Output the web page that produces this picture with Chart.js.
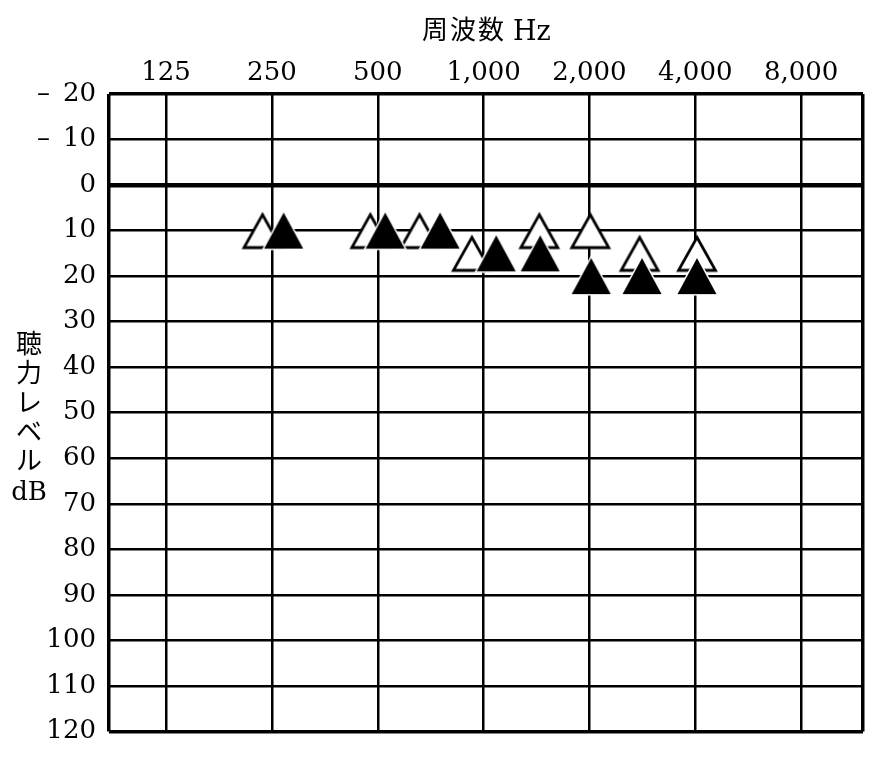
<!DOCTYPE html>
<html>
<head>
<meta charset="utf-8">
<script src="https://cdn.jsdelivr.net/npm/chart.js@4.4.1/dist/chart.umd.min.js"></script>
<style>
html,body{margin:0;padding:0;background:#fff;}
#wrap{width:884px;height:760px;position:relative;}
</style>
</head>
<body>
<div id="wrap"><canvas id="c"></canvas></div>
<script>
// ---- data ----
const xTickValues = [125, 250, 500, 1000, 2000, 4000, 8000];
const xTickLabels = ['125', '250', '500', '1,000', '2,000', '4,000', '8,000'];
const xMin = 86, xMax = 12000;
const yTickValues = [-20, -10, 0, 10, 20, 30, 40, 50, 60, 70, 80, 90, 100, 110, 120];
const yTickLabels = ['\u2013\u200220', '\u2013\u200210', '0', '10', '20', '30', '40', '50', '60', '70', '80', '90', '100', '110', '120'];
// open triangles (frequency in Hz as plotted, level in dB)
const openFreqs = [235, 476, 657, 926, 1440, 2011, 2778, 4045];
const openDb    = [10, 10, 10, 15, 10, 10, 15, 15];
// filled triangles
const filledFreqs = [270, 525, 752, 1086, 1449, 2024, 2823, 4045];
const filledDb    = [10, 10, 10, 15, 15, 20, 20, 20];
const xTitleMain = '周波数';
const xTitleUnit = 'Hz';
const yTitleChars = ['聴', '力', 'レ', 'ベ', 'ル', 'dB'];

// ---- marker images ----
function makeOpenTri() {
  const c = document.createElement('canvas');
  c.width = 46; c.height = 42;
  const g = c.getContext('2d');
  g.beginPath();
  g.moveTo(23, 5); g.lineTo(41.5, 38); g.lineTo(4.5, 38); g.closePath();
  g.fillStyle = '#fff'; g.fill();
  g.lineWidth = 2.8; g.strokeStyle = '#000'; g.lineJoin = 'miter'; g.stroke();
  return c;
}
function makeFilledTri() {
  const c = document.createElement('canvas');
  c.width = 46; c.height = 42;
  const g = c.getContext('2d');
  g.beginPath();
  g.moveTo(23, 3); g.lineTo(42.5, 39); g.lineTo(3.5, 39); g.closePath();
  g.lineWidth = 3; g.strokeStyle = '#fff'; g.stroke();
  g.fillStyle = '#000'; g.fill();
  return c;
}

const textPlugin = {
  id: 'extraText',
  afterDraw(chart) {
    const g = chart.ctx;
    g.save();
    g.fillStyle = '#000';
    g.textBaseline = 'middle';
    g.font = "26px 'DejaVu Serif', 'Noto Sans CJK JP'";
    g.textAlign = 'center';
    try { g.letterSpacing = '2px'; } catch (e) {}
    g.fillText(xTitleMain, 464, 32);
    try { g.letterSpacing = '0px'; } catch (e) {}
    g.textAlign = 'left';
    g.font = "27px 'DejaVu Serif'";
    g.fillText(xTitleUnit, 513, 33);
    g.textAlign = 'center';
    g.font = "26px 'DejaVu Serif', 'Noto Sans CJK JP'";
    const y0 = 346, step = 29.4;
    yTitleChars.forEach((ch, i) => g.fillText(ch, 29, y0 + i * step));
    g.restore();
  }
};

const tickFont = { family: "'DejaVu Serif'", size: 26 };

new Chart(document.getElementById('c'), {
  type: 'scatter',
  data: {
    datasets: [
      {
        label: 'open',
        data: openFreqs.map((f, i) => ({ x: f, y: openDb[i] })),
        pointStyle: makeOpenTri(),
        pointRadius: 20,
        showLine: false,
        order: 2
      },
      {
        label: 'filled',
        data: filledFreqs.map((f, i) => ({ x: f, y: filledDb[i] })),
        pointStyle: makeFilledTri(),
        pointRadius: 20,
        showLine: false,
        order: 1
      }
    ]
  },
  options: {
    responsive: true,
    maintainAspectRatio: false,
    animation: false,
    layout: { padding: { left: 0, top: 0, right: 21, bottom: 23 } },
    plugins: { legend: { display: false }, tooltip: { enabled: false } },
    scales: {
      x: {
        type: 'logarithmic',
        position: 'top',
        min: xMin, max: xMax,
        afterBuildTicks: s => { s.ticks = [xMin, ...xTickValues, xMax].map(v => ({ value: v })); },
        afterFit: s => { s.height = 94; },
        ticks: {
          autoSkip: false, maxRotation: 0, minRotation: 0,
          padding: 5, color: '#000', font: tickFont,
          callback: v => { const i = xTickValues.indexOf(v); return i >= 0 ? xTickLabels[i] : ''; }
        },
        grid: {
          color: '#000', drawTicks: false,
          lineWidth: ctx => (ctx.tick && (ctx.tick.value === xMin || ctx.tick.value === xMax)) ? 3.5 : 2.5
        },
        border: { display: false }
      },
      y: {
        type: 'linear',
        reverse: true,
        min: -20, max: 120,
        afterBuildTicks: s => { s.ticks = yTickValues.map(v => ({ value: v })); },
        afterFit: s => { s.width = 109; },
        ticks: {
          autoSkip: false, padding: 13, color: '#000', font: tickFont,
          callback: v => yTickLabels[yTickValues.indexOf(v)]
        },
        grid: {
          color: '#000', drawTicks: false,
          lineWidth: ctx => {
            const v = ctx.tick ? ctx.tick.value : null;
            if (v === 0) return 4.5;
            if (v === -20 || v === 120) return 3.5;
            return 2.5;
          }
        },
        border: { display: false }
      }
    }
  },
  plugins: [textPlugin]
});
</script>
</body>
</html>
